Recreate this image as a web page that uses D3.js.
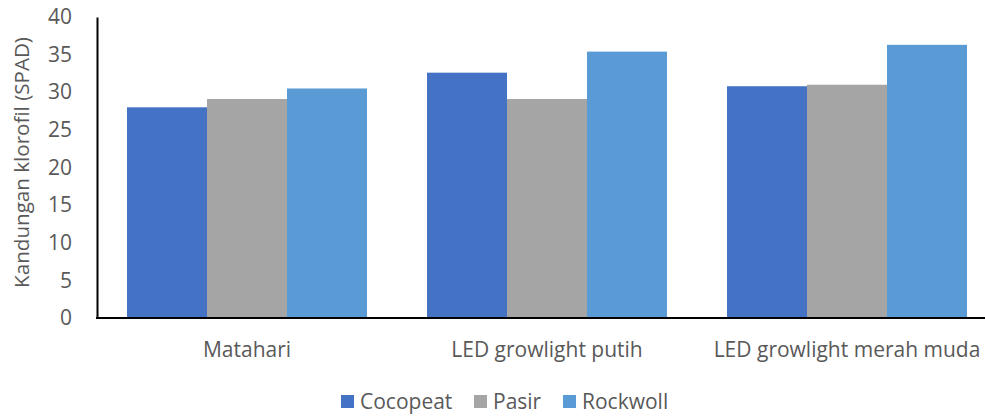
<!DOCTYPE html>
<html><head><meta charset="utf-8">
<script src="https://cdn.jsdelivr.net/npm/d3@7"></script>
<style>body{margin:0;background:#fff;}svg{display:block;font-family:"Open Sans","Noto Sans",sans-serif;}</style>
</head><body><svg id="c" width="985" height="416"></svg>
<script>
const categories = ["Matahari", "LED growlight putih", "LED growlight merah muda"];
const seriesNames = ["Cocopeat", "Pasir", "Rockwoll"];
const cocopeat = [28.0, 32.6, 30.8];
const pasir = [29.1, 29.1, 31.0];
const rockwoll = [30.5, 35.4, 36.3];
const colors = ["#4472C4", "#A5A5A5", "#5B9BD5"];
const yTicks = [0, 5, 10, 15, 20, 25, 30, 35, 40];
const yTitle = "Kandungan klorofil (SPAD)";

(function () {
const series = [cocopeat, pasir, rockwoll];
const svg = d3.select("#c");
const mLeft = 97, mRight = 997, mTop = 17, mBottom = 318;
const ff = "'Open Sans','Noto Sans',sans-serif";

const x = d3.scaleBand().domain(categories).range([mLeft, mRight]).paddingInner(0).paddingOuter(0);
const x1 = d3.scaleBand().domain(seriesNames).range([0, x.bandwidth()]).paddingInner(0).paddingOuter(0.375);
const y = d3.scaleLinear().domain([0, 40]).range([mBottom, mTop]);

const g = svg.append("g");
categories.forEach((c, i) => {
  g.selectAll(null).data(seriesNames).enter().append("rect")
    .attr("x", s => x(c) + x1(s))
    .attr("width", x1.bandwidth())
    .attr("y", (s, j) => y(series[j][i]))
    .attr("height", (s, j) => y(0) - y(series[j][i]))
    .attr("fill", (s, j) => colors[j]);
});

const yAxis = svg.append("g").attr("transform", `translate(${mLeft},0)`)
  .call(d3.axisLeft(y).tickValues(yTicks).tickSize(0).tickPadding(25));
yAxis.select(".domain").attr("stroke", "#000").attr("stroke-width", 2);
yAxis.selectAll("text").attr("font-size", 21).attr("fill", "#595959").attr("font-family", ff);

const xAxis = svg.append("g").attr("transform", `translate(0,${mBottom})`)
  .call(d3.axisBottom(x).tickSize(0).tickPadding(24));
xAxis.select(".domain").remove();
svg.append("line").attr("x1", mLeft - 1).attr("x2", 985).attr("y1", mBottom).attr("y2", mBottom)
  .attr("stroke", "#000").attr("stroke-width", 2);
xAxis.selectAll("text").attr("font-size", 21).attr("fill", "#595959").attr("font-family", ff);

svg.append("text").attr("transform", `translate(29,162.5) rotate(-90)`)
  .attr("text-anchor", "middle").attr("font-size", 20.6).attr("fill", "#595959")
  .text(yTitle);

const legendX = [341, 474, 563];
const lg = svg.append("g");
seriesNames.forEach((s, i) => {
  lg.append("rect").attr("x", legendX[i]).attr("y", 395).attr("width", 13).attr("height", 13).attr("fill", colors[i]);
  lg.append("text").attr("x", legendX[i] + 19).attr("y", 409).attr("font-size", 21).attr("fill", "#595959").text(s);
});
})();
</script></body></html>
